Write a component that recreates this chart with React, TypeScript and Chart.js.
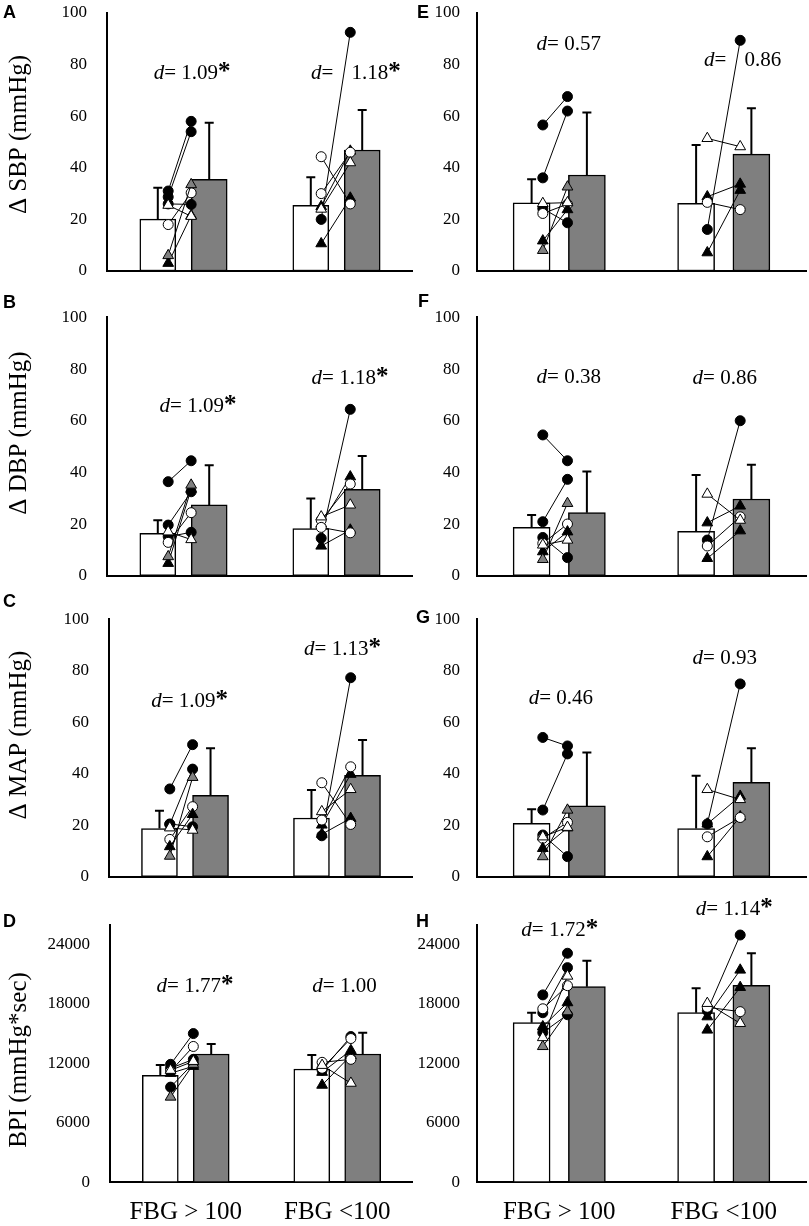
import { useEffect, useRef } from 'react';
import { Chart, registerables } from 'chart.js';

Chart.register(...registerables);
Chart.defaults.font.family = '"Liberation Serif", "Times New Roman", serif';
Chart.defaults.color = '#000';

// x 轴分组
const groups = ['FBG > 100', 'FBG <100'];

// y 轴刻度
const bpTicks = [0, 20, 40, 60, 80, 100];
const bpiTicks = [0, 6000, 12000, 18000, 24000];

// 每组受试者的标记
type Marker = 'dot' | 'ring' | 'tri' | 'grayTri' | 'openTri';
const markers1: Marker[] = ['dot', 'dot', 'dot', 'ring', 'tri', 'grayTri', 'openTri'];
const markers2: Marker[] = ['dot', 'tri', 'tri', 'ring', 'ring', 'openTri'];
const markers2b: Marker[] = ['dot', 'tri', 'tri', 'ring', 'openTri'];

// A: ΔSBP
const aWhiteMean = [20.1, 25.5];
const aWhiteSd = [12.2, 10.8];
const aGrayMean = [35.5, 46.9];
const aGraySd = [22.0, 15.5];
const aPre1 = [31, 28.7, 26, 18, 3, 6, 25.5];
const aPost1 = [58, 54, 25.8, 30.3, 21.5, 33.5, 21.2];
const aPre2 = [20, 25, 10.6, 44.3, 30, 24];
const aPost2 = [92.5, 46.5, 28.3, 26, 46, 42];
const aD = ['1.09*', '1.18*'];

// B: ΔDBP
const bWhiteMean = [16.4, 18.2];
const bWhiteSd = [5.1, 11.7];
const bGrayMean = [27.4, 33.4];
const bGraySd = [15.4, 12.9];
const bPre1 = [36.4, 19.6, 15.1, 12.9, 4.8, 7.4, 17];
const bPost1 = [44.5, 32.5, 16.8, 24.4, 33.5, 35.1, 14];
const bPre2 = [14.5, 20, 11.5, 21.5, 18.7, 22.8];
const bPost2 = [64.4, 38.3, 17.7, 35.5, 16.6, 27.4];
const bD = ['1.09*', '1.18*'];

// C: ΔMAP
const cWhiteMean = [18.7, 22.8];
const cWhiteSd = [6.9, 10.9];
const cGrayMean = [31.6, 39.4];
const cGraySd = [18.3, 13.7];
const cPre1 = [34.1, 20.3, 20.5, 14.5, 11.7, 8, 19];
const cPost1 = [51.3, 41.8, 19.4, 27.2, 24.2, 38.6, 18.1];
const cPre2 = [15.9, 20.1, 16.5, 36.5, 22, 25.3];
const cPost2 = [77.3, 39.8, 22.7, 20.3, 42.7, 33.9];
const cD = ['1.09*', '1.13*'];

// D: BPI
const dWhiteMean = [10790, 11430];
const dWhiteSd = [1040, 1410];
const dGrayMean = [12940, 12940];
const dGraySd = [1010, 2150];
const dPre1 = [11900, 11500, 9600, 11200, 11000, 8600, 11300];
const dPost1 = [15000, 12400, 12000, 13700, 11700, 11900, 12200];
const dPre2 = [11300, 11100, 9800, 12100, 11500, 11800];
const dPost2 = [14700, 13300, 12800, 12400, 14500, 10000];
const dD = ['1.77*', '1.00'];

// E: ΔSBP
const eWhiteMean = [26.4, 26.2];
const eWhiteSd = [9.2, 22.6];
const eGrayMean = [37.2, 45.3];
const eGraySd = [24.2, 17.8];
const ePre1 = [56.6, 36.1, 24.2, 22.3, 11.7, 8, 26.2];
const ePost1 = [67.6, 62, 18.7, 25.9, 23.8, 32.6, 26.5];
const ePre2 = [16.1, 28.8, 7.1, 26.6, 51.4];
const ePost2 = [89.4, 33.7, 31.3, 23.8, 48.2];
const eD = ['0.57', '0.86'];

// F: ΔDBP
const fWhiteMean = [18.7, 17.2];
const fWhiteSd = [4.8, 21.8];
const fGrayMean = [24.4, 29.7];
const fGraySd = [15.9, 13.3];
const fPre1 = [54.5, 20.9, 14.8, 12.5, 9.3, 6.3, 11.9];
const fPost1 = [44.5, 37.3, 7, 20, 17, 28, 13.8];
const fPre2 = [13.8, 20.5, 6.7, 11.5, 31.6];
const fPost2 = [60, 27, 17.4, 22.8, 21.5];
const fD = ['0.38', '0.86'];

// G: ΔMAP
const gWhiteMean = [20.7, 18.7];
const gWhiteSd = [5.5, 20.5];
const gGrayMean = [27.5, 36.7];
const gGraySd = [20.8, 13.2];
const gPre1 = [54.1, 25.9, 16.2, 14.9, 11, 7.8, 15.5];
const gPost1 = [50.8, 47.7, 7.8, 21.1, 19, 25.9, 19.2];
const gPre2 = [20.5, 20.5, 7.8, 15.5, 33.9];
const gPost2 = [74.9, 31.3, 23.3, 23, 30];
const gD = ['0.46', '0.93'];

// H: BPI
const hWhiteMean = [16100, 17110];
const hWhiteSd = [1010, 2450];
const hGrayMean = [19730, 19870];
const hGraySd = [2620, 3220];
const hPre1 = [18900, 17100, 15100, 17500, 15700, 13700, 14600];
const hPost1 = [23100, 21650, 16900, 19830, 18120, 17210, 20800];
const hPre2 = [17300, 16700, 15360, 17650, 18050];
const hPost2 = [24940, 21410, 19660, 17210, 16030];
const hD = ['1.72*', '1.14*'];

// 标记样式
const markerStyle: Record<Marker, { style: string; fill: string; r: number }> = {
  dot: { style: 'circle', fill: '#000', r: 5 },
  ring: { style: 'circle', fill: '#fff', r: 5 },
  tri: { style: 'triangle', fill: '#000', r: 6.2 },
  grayTri: { style: 'triangle', fill: '#808080', r: 6.2 },
  openTri: { style: 'triangle', fill: '#fff', r: 6.2 },
};

// 个体点和柱子相对组中心的位置（类别单位）
const preOffset = -0.1;
const barShift = 0.168;

interface Panel {
  letter: string;
  letterX: number;
  letterY: number;
  title?: string;
  titleY?: number;
  ticks: number[];
  yMax: number;
  whiteMean: number[];
  whiteSd: number[];
  grayMean: number[];
  graySd: number[];
  pre1: number[];
  post1: number[];
  pre2: number[];
  post2: number[];
  m2: Marker[];
  dLabels: string[];
  dAnchors: { x: number; y: number }[];
  dGaps: number[];
  left: number;
  top: number;
  width: number;
  height: number;
  plotLeft: number;
  plotRight: number;
  plotTop: number;
  plotBottom: number;
  showX: boolean;
  tickPad: number;
  barW: number;
  postOffset: number[];
}

const rows = [
  { top: 0, height: 290, plotTop: 13, plotBottom: 271 },
  { top: 290, height: 300, plotTop: 317.4, plotBottom: 575.7 },
  { top: 590, height: 300, plotTop: 619.3, plotBottom: 876.7 },
  { top: 890, height: 336, plotTop: 924.5, plotBottom: 1182.3 },
];
const leftCol = { left: 0, width: 413, plotRight: 413, tickPad: 20, barW: 36, postOffset: [0.05, 0.09] };
const rightCol = { left: 400, width: 409, plotLeft: 477, plotRight: 806, tickPad: 17, barW: 37, postOffset: [0.05, 0.1] };

const panels: Panel[] = [
  {
    ...rows[0], ...leftCol, plotLeft: 107, showX: false,
    letter: 'A', letterX: 3, letterY: 18, title: 'Δ SBP (mmHg)', titleY: 134.5,
    ticks: bpTicks, yMax: 100,
    whiteMean: aWhiteMean, whiteSd: aWhiteSd, grayMean: aGrayMean, graySd: aGraySd,
    pre1: aPre1, post1: aPost1, pre2: aPre2, post2: aPost2, m2: markers2,
    dLabels: aD, dAnchors: [{ x: 0.056, y: 77 }, { x: 1.127, y: 77 }], dGaps: [0, 13],
  },
  {
    ...rows[1], ...leftCol, plotLeft: 107, showX: false,
    letter: 'B', letterX: 3, letterY: 18, title: 'Δ DBP (mmHg)', titleY: 143,
    ticks: bpTicks, yMax: 100,
    whiteMean: bWhiteMean, whiteSd: bWhiteSd, grayMean: bGrayMean, graySd: bGraySd,
    pre1: bPre1, post1: bPost1, pre2: bPre2, post2: bPost2, m2: markers2,
    dLabels: bD, dAnchors: [{ x: 0.095, y: 66 }, { x: 1.088, y: 76.8 }], dGaps: [0, 0],
  },
  {
    ...rows[2], ...leftCol, plotLeft: 109, showX: false,
    letter: 'C', letterX: 3, letterY: 17, title: 'Δ MAP (mmHg)', titleY: 145,
    ticks: bpTicks, yMax: 100,
    whiteMean: cWhiteMean, whiteSd: cWhiteSd, grayMean: cGrayMean, graySd: cGraySd,
    pre1: cPre1, post1: cPost1, pre2: cPre2, post2: cPost2, m2: markers2,
    dLabels: cD, dAnchors: [{ x: 0.03, y: 68.6 }, { x: 1.036, y: 88.7 }], dGaps: [0, 0],
  },
  {
    ...rows[3], ...leftCol, plotLeft: 110, showX: true,
    letter: 'D', letterX: 3, letterY: 37, title: 'BPI (mmHg*sec)', titleY: 170,
    ticks: bpiTicks, yMax: 26000,
    whiteMean: dWhiteMean, whiteSd: dWhiteSd, grayMean: dGrayMean, graySd: dGraySd,
    pre1: dPre1, post1: dPost1, pre2: dPre2, post2: dPost2, m2: markers2,
    dLabels: dD, dAnchors: [{ x: 0.061, y: 19900 }, { x: 1.048, y: 19900 }], dGaps: [0, 0],
  },
  {
    ...rows[0], ...rightCol, showX: false,
    letter: 'E', letterX: 17, letterY: 18,
    ticks: bpTicks, yMax: 100,
    whiteMean: eWhiteMean, whiteSd: eWhiteSd, grayMean: eGrayMean, graySd: eGraySd,
    pre1: ePre1, post1: ePost1, pre2: ePre2, post2: ePost2, m2: markers2b,
    dLabels: eD, dAnchors: [{ x: 0.058, y: 88.3 }, { x: 1.115, y: 82 }], dGaps: [0, 13],
  },
  {
    ...rows[1], ...rightCol, showX: false,
    letter: 'F', letterX: 18, letterY: 17,
    ticks: bpTicks, yMax: 100,
    whiteMean: fWhiteMean, whiteSd: fWhiteSd, grayMean: fGrayMean, graySd: fGraySd,
    pre1: fPre1, post1: fPost1, pre2: fPre2, post2: fPost2, m2: markers2b,
    dLabels: fD, dAnchors: [{ x: 0.058, y: 77.3 }, { x: 1.006, y: 76.8 }], dGaps: [0, 0],
  },
  {
    ...rows[2], ...rightCol, showX: false,
    letter: 'G', letterX: 16, letterY: 33,
    ticks: bpTicks, yMax: 100,
    whiteMean: gWhiteMean, whiteSd: gWhiteSd, grayMean: gGrayMean, graySd: gGraySd,
    pre1: gPre1, post1: gPost1, pre2: gPre2, post2: gPost2, m2: markers2b,
    dLabels: gD, dAnchors: [{ x: 0.01, y: 69.7 }, { x: 1.006, y: 85.5 }], dGaps: [0, 0],
  },
  {
    ...rows[3], ...rightCol, showX: true,
    letter: 'H', letterX: 16, letterY: 37,
    ticks: bpiTicks, yMax: 26000,
    whiteMean: hWhiteMean, whiteSd: hWhiteSd, grayMean: hGrayMean, graySd: hGraySd,
    pre1: hPre1, post1: hPost1, pre2: hPre2, post2: hPost2, m2: markers2b,
    dLabels: hD, dAnchors: [{ x: 0.003, y: 25512 }, { x: 1.064, y: 27630 }], dGaps: [0, 0],
  },
];

// 误差线、d 值、面板字母和 y 轴标题
function overlay(p: Panel) {
  return {
    id: 'overlay',
    afterDatasetDraw(chart: any, args: any) {
      if (args.index > 1) return;
      const mean = args.index === 0 ? p.whiteMean : p.grayMean;
      const sd = args.index === 0 ? p.whiteSd : p.graySd;
      const y = chart.scales.y;
      const ctx = chart.ctx;
      ctx.save();
      ctx.strokeStyle = '#000';
      ctx.lineWidth = 2;
      args.meta.data.forEach((bar: any, i: number) => {
        const top = y.getPixelForValue(mean[i] + sd[i]);
        ctx.beginPath();
        ctx.moveTo(bar.x, bar.y);
        ctx.lineTo(bar.x, top);
        ctx.moveTo(bar.x - 4.5, top);
        ctx.lineTo(bar.x + 4.5, top);
        ctx.stroke();
      });
      ctx.restore();
    },
    afterDraw(chart: any) {
      const ctx = chart.ctx;
      const xs = chart.scales.xs;
      const y = chart.scales.y;
      ctx.save();
      ctx.fillStyle = '#000';
      ctx.textAlign = 'left';
      ctx.textBaseline = 'alphabetic';
      const fam = '"Liberation Serif", serif';
      p.dLabels.forEach((lab, i) => {
        const star = lab.endsWith('*');
        const num = star ? lab.slice(0, -1) : lab;
        ctx.font = `italic 21px ${fam}`;
        const wD = ctx.measureText('d').width;
        ctx.font = `21px ${fam}`;
        const wEq = ctx.measureText('=').width;
        const wSp = ctx.measureText(' ').width;
        const wNum = ctx.measureText(num).width;
        ctx.font = `bold 25px ${fam}`;
        const wStar = star ? ctx.measureText('*').width : 0;
        const total = wD + wEq + wSp + p.dGaps[i] + wNum + wStar;
        let x = xs.getPixelForValue(p.dAnchors[i].x) - total / 2;
        const base = y.getPixelForValue(p.dAnchors[i].y) + 7;
        ctx.font = `italic 21px ${fam}`;
        ctx.fillText('d', x, base);
        x += wD;
        ctx.font = `21px ${fam}`;
        ctx.fillText('=', x, base);
        x += wEq + wSp + p.dGaps[i];
        ctx.fillText(num, x, base);
        x += wNum;
        if (star) {
          ctx.font = `bold 25px ${fam}`;
          ctx.fillText('*', x, base);
        }
      });
      ctx.font = 'bold 18px "Liberation Sans", Arial, sans-serif';
      ctx.fillText(p.letter, p.letterX, p.letterY);
      if (p.title) {
        ctx.translate(19, p.titleY);
        ctx.rotate(-Math.PI / 2);
        ctx.textAlign = 'center';
        ctx.textBaseline = 'middle';
        ctx.font = `25px ${fam}`;
        ctx.fillText(p.title, 0, 0);
      }
      ctx.restore();
    },
  };
}

function PanelChart({ p }: { p: Panel }) {
  const canvasRef = useRef<HTMLCanvasElement>(null);

  useEffect(() => {
    if (!canvasRef.current) return;

    // 每个受试者一条两点连线
    const lines: any[] = [];
    const addGroup = (g: number, pre: number[], post: number[], marks: Marker[]) => {
      pre.forEach((v, i) => {
        const m = markerStyle[marks[i]];
        lines.push({
          type: 'line',
          xAxisID: 'xs',
          data: [
            { x: g + preOffset, y: v },
            { x: g + p.postOffset[g], y: post[i] },
          ],
          borderColor: '#000',
          borderWidth: 1,
          pointStyle: m.style,
          pointRadius: m.r,
          pointBackgroundColor: m.fill,
          pointBorderColor: '#000',
          pointBorderWidth: 1,
          clip: false,
          order: 100 - i,
        });
      });
    };
    addGroup(0, p.pre1, p.post1, markers1);
    addGroup(1, p.pre2, p.post2, p.m2);

    const barSet = (means: number[], shift: number, fill: string) => ({
      type: 'bar',
      xAxisID: 'xs',
      data: means.map((v, g) => ({ x: g + shift, y: v })),
      backgroundColor: fill,
      borderColor: '#000',
      borderWidth: 1.5,
      borderSkipped: false,
      grouped: false,
      barThickness: p.barW,
      order: 1000,
    });

    const chart = new Chart(canvasRef.current, {
      type: 'bar',
      data: {
        labels: groups,
        datasets: [
          barSet(p.whiteMean, -barShift, '#fff'),
          barSet(p.grayMean, barShift, '#7f7f7f'),
          ...lines,
        ] as any,
      },
      options: {
        animation: false,
        responsive: false,
        layout: {
          autoPadding: false,
          padding: {
            top: p.plotTop - p.top,
            right: p.left + p.width - p.plotRight,
            left: 0,
            bottom: 0,
          },
        },
        plugins: {
          legend: { display: false },
          tooltip: { enabled: false },
        },
        scales: {
          x: {
            type: 'category',
            offset: true,
            grid: { display: false, drawTicks: false },
            border: { color: '#000', width: 2 },
            ticks: { display: p.showX, font: { size: 25 }, color: '#000', padding: 15 },
            afterFit: (s: any) => {
              s.height = p.top + p.height - p.plotBottom;
              s.paddingLeft = 0;
              s.paddingRight = 0;
            },
          },
          xs: { type: 'linear', display: false, offset: false, min: -0.5, max: 1.5 },
          y: {
            type: 'linear',
            min: 0,
            max: p.yMax,
            grid: { display: false, drawTicks: false },
            border: { color: '#000', width: 2 },
            ticks: {
              font: { size: 17 },
              color: '#000',
              padding: p.tickPad,
              callback: (v: any) => String(v),
            },
            afterBuildTicks: (s: any) => {
              s.ticks = p.ticks.map((v) => ({ value: v }));
            },
            afterFit: (s: any) => {
              s.width = p.plotLeft - p.left;
              s.paddingTop = 0;
              s.paddingBottom = 0;
            },
          },
        } as any,
      },
      plugins: [overlay(p)],
    });

    return () => chart.destroy();
  }, [p]);

  return (
    <canvas
      ref={canvasRef}
      width={p.width}
      height={p.height}
      style={{ position: 'absolute', left: p.left, top: p.top, width: p.width, height: p.height }}
    />
  );
}

export default function App() {
  return (
    <div style={{ position: 'absolute', left: 0, top: 0, width: 809, height: 1226, background: '#fff' }}>
      {panels.map((p) => (
        <PanelChart key={p.letter} p={p} />
      ))}
    </div>
  );
}
